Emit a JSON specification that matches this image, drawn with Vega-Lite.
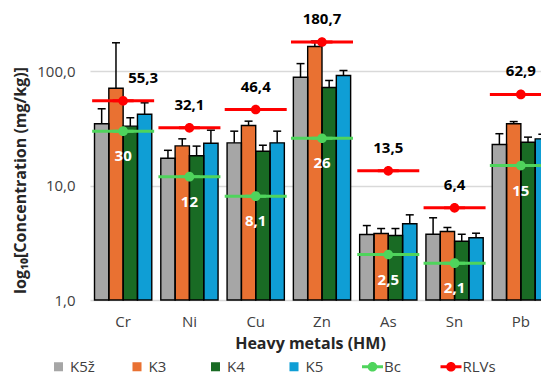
{
  "$schema": "https://vega.github.io/schema/vega-lite/v6.json",
  "autosize": {"type": "none"},
  "padding": {"left": 90, "top": 0, "right": 0, "bottom": 75},
  "width": 451,
  "height": 300,
  "config": {
    "locale": {"number": {"decimal": ",", "thousands": " ", "grouping": [3], "currency": ["", " €"]}},
    "font": "Open Sans",
    "view": {"stroke": null}
  },
  "datasets": {
    "bars": [
      {"metal": "Cr", "series": "K5ž", "value": 34.8, "upper": 47.1},
      {"metal": "Cr", "series": "K3", "value": 71.3, "upper": 178},
      {"metal": "Cr", "series": "K4", "value": 33.2, "upper": 39.3},
      {"metal": "Cr", "series": "K5", "value": 42.2, "upper": 53.1},
      {"metal": "Ni", "series": "K5ž", "value": 17.4, "upper": 20.4},
      {"metal": "Ni", "series": "K3", "value": 22.3, "upper": 25.7},
      {"metal": "Ni", "series": "K4", "value": 18.3, "upper": 22.2},
      {"metal": "Ni", "series": "K5", "value": 23.5, "upper": 30.6},
      {"metal": "Cu", "series": "K5ž", "value": 23.7, "upper": 30.0},
      {"metal": "Cu", "series": "K3", "value": 33.6, "upper": 36.7},
      {"metal": "Cu", "series": "K4", "value": 20.0, "upper": 22.6},
      {"metal": "Cu", "series": "K5", "value": 23.7, "upper": 30.0},
      {"metal": "Zn", "series": "K5ž", "value": 89, "upper": 117},
      {"metal": "Zn", "series": "K3", "value": 165, "upper": 184},
      {"metal": "Zn", "series": "K4", "value": 72.3, "upper": 83.3},
      {"metal": "Zn", "series": "K5", "value": 92, "upper": 101.8},
      {"metal": "As", "series": "K5ž", "value": 3.74, "upper": 4.48},
      {"metal": "As", "series": "K3", "value": 3.82, "upper": 4.22},
      {"metal": "As", "series": "K4", "value": 3.67, "upper": 4.22},
      {"metal": "As", "series": "K5", "value": 4.64, "upper": 5.56},
      {"metal": "Sn", "series": "K5ž", "value": 3.76, "upper": 5.24},
      {"metal": "Sn", "series": "K3", "value": 3.97, "upper": 4.31},
      {"metal": "Sn", "series": "K4", "value": 3.27, "upper": 3.76},
      {"metal": "Sn", "series": "K5", "value": 3.5, "upper": 3.84},
      {"metal": "Pb", "series": "K5ž", "value": 22.9, "upper": 28.5},
      {"metal": "Pb", "series": "K3", "value": 34.8, "upper": 36.4},
      {"metal": "Pb", "series": "K4", "value": 24.0, "upper": 26.6},
      {"metal": "Pb", "series": "K5", "value": 25.7, "upper": 28.2}
    ],
    "ref": [
      {"metal": "Cr", "series": "Bc", "value": 30},
      {"metal": "Ni", "series": "Bc", "value": 12},
      {"metal": "Cu", "series": "Bc", "value": 8.1},
      {"metal": "Zn", "series": "Bc", "value": 26},
      {"metal": "As", "series": "Bc", "value": 2.5},
      {"metal": "Sn", "series": "Bc", "value": 2.1},
      {"metal": "Pb", "series": "Bc", "value": 15},
      {"metal": "Cr", "series": "RLVs", "value": 55.3},
      {"metal": "Ni", "series": "RLVs", "value": 32.1},
      {"metal": "Cu", "series": "RLVs", "value": 46.4},
      {"metal": "Zn", "series": "RLVs", "value": 180.7},
      {"metal": "As", "series": "RLVs", "value": 13.5},
      {"metal": "Sn", "series": "RLVs", "value": 6.4},
      {"metal": "Pb", "series": "RLVs", "value": 62.9}
    ]
  },
  "encoding": {
    "x": {
      "field": "metal", "type": "nominal", "sort": ["Cr", "Ni", "Cu", "Zn", "As", "Sn", "Pb"],
      "scale": {"range": [0, 464], "paddingInner": 0.136, "paddingOuter": 0.068},
      "axis": {
        "title": "Heavy metals (HM)", "labelAngle": 0, "domain": false, "ticks": false, "grid": false,
        "labelFontSize": 15, "labelColor": "#404040", "labelPadding": 14,
        "titleFontSize": 16, "titleFontWeight": "bold", "titleColor": "#262626",
        "titleX": 220, "titleY": 48, "titleBaseline": "alphabetic", "titleAnchor": "middle"
      }
    },
    "y": {
      "type": "quantitative",
      "scale": {"type": "log", "domain": [1, 421.4], "nice": false, "zero": false},
      "axis": {
        "title": "log₁₀[Concentration (mg/kg)]", "values": [1, 10, 100], "format": ".1f",
        "domain": false, "ticks": false, "grid": true, "gridColor": "#d9d9d9", "gridWidth": 1.5,
        "labelFontSize": 15, "labelColor": "#404040", "labelPadding": 15,
        "titleFontSize": 16, "titleFontWeight": "bold", "titleColor": "#262626",
        "titleX": -70, "titleY": 180, "titleAngle": -90, "titleAlign": "center", "titleBaseline": "middle"
      }
    }
  },
  "layer": [
    {
      "data": {"name": "bars"},
      "mark": {"type": "bar"},
      "encoding": {
        "y": {"field": "value", "type": "quantitative", "stack": null},
        "xOffset": {"field": "series", "type": "nominal", "sort": ["K5ž", "K3", "K4", "K5"], "scale": {"paddingInner": 0, "paddingOuter": 0}},
        "color": {
          "field": "series", "type": "nominal",
          "scale": {"domain": ["K5ž", "K3", "K4", "K5", "Bc", "RLVs"], "range": ["#a6a6a6", "#e97132", "#196b24", "#0f9ed5", "#4fd45c", "#ff0000"]},
          "legend": {
            "title": null, "orient": "none", "legendX": -43, "legendY": 355, "direction": "horizontal",
            "columns": 6, "symbolSize": 441, "labelFontSize": 15, "labelColor": "#404040", "labelOffset": 0,
            "columnPadding": 21.5, "gridAlign": "all", "symbolOpacity": 1, "labelLimit": 200
          }
        }
      }
    },
    {
      "data": {"name": "bars"},
      "mark": {"type": "bar", "filled": false, "color": "#000000", "strokeWidth": 1.4},
      "encoding": {
        "y": {"field": "value", "type": "quantitative", "stack": null},
        "xOffset": {"field": "series", "type": "nominal", "sort": ["K5ž", "K3", "K4", "K5"]}
      }
    },
    {
      "data": {"name": "bars"},
      "mark": {"type": "rule", "color": "#000000", "strokeWidth": 1.5},
      "encoding": {
        "y": {"field": "value", "type": "quantitative"},
        "y2": {"field": "upper"},
        "xOffset": {"field": "series", "type": "nominal", "sort": ["K5ž", "K3", "K4", "K5"]}
      }
    },
    {
      "data": {"name": "bars"},
      "mark": {"type": "tick", "color": "#000000", "thickness": 1.5, "size": 8, "opacity": 1},
      "encoding": {
        "y": {"field": "upper", "type": "quantitative"},
        "xOffset": {"field": "series", "type": "nominal", "sort": ["K5ž", "K3", "K4", "K5"]}
      }
    },
    {
      "data": {"name": "ref"},
      "mark": {"type": "tick", "thickness": 3, "size": 62, "opacity": 1},
      "encoding": {
        "y": {"field": "value", "type": "quantitative"},
        "color": {"field": "series", "type": "nominal"}
      }
    },
    {
      "data": {"name": "ref"},
      "mark": {"type": "point", "filled": true, "size": 441, "opacity": 1},
      "encoding": {
        "y": {"field": "value", "type": "quantitative"},
        "color": {"field": "series", "type": "nominal"},
        "shape": {
          "field": "series", "type": "nominal",
          "scale": {
            "domain": ["K5ž", "K3", "K4", "K5", "Bc", "RLVs"],
            "range": [
              "M-0.43,-0.43H0.43V0.43H-0.43Z",
              "M-0.43,-0.43H0.43V0.43H-0.43Z",
              "M-0.43,-0.43H0.43V0.43H-0.43Z",
              "M-0.43,-0.43H0.43V0.43H-0.43Z",
              "M-1,-0.14H1V0.14H-1Z M0.46,0A0.46,0.46 0 1 1 -0.46,0A0.46,0.46 0 1 1 0.46,0Z",
              "M-1,-0.14H1V0.14H-1Z M0.46,0A0.46,0.46 0 1 1 -0.46,0A0.46,0.46 0 1 1 0.46,0Z"
            ]
          },
          "legend": {
            "title": null, "orient": "none", "legendX": -43, "legendY": 355, "direction": "horizontal",
            "columns": 6, "symbolSize": 441, "labelFontSize": 15, "labelColor": "#404040", "labelOffset": 0,
            "columnPadding": 21.5, "gridAlign": "all", "symbolOpacity": 1, "labelLimit": 200
          }
        }
      }
    },
    {
      "data": {"name": "ref"},
      "transform": [{"filter": "datum.series == 'RLVs' && datum.metal != 'Cr'"}],
      "mark": {"type": "text", "dy": -23, "fontSize": 15, "fontWeight": "bold", "color": "#000000"},
      "encoding": {
        "y": {"field": "value", "type": "quantitative"},
        "text": {"field": "value", "type": "quantitative", "format": ".1f"}
      }
    },
    {
      "data": {"name": "ref"},
      "transform": [{"filter": "datum.series == 'RLVs' && datum.metal == 'Cr'"}],
      "mark": {"type": "text", "dy": -23, "dx": 20, "fontSize": 15, "fontWeight": "bold", "color": "#000000"},
      "encoding": {
        "y": {"field": "value", "type": "quantitative"},
        "text": {"field": "value", "type": "quantitative", "format": ".1f"}
      }
    },
    {
      "data": {"name": "ref"},
      "transform": [{"filter": "datum.series == 'Bc'"}],
      "mark": {"type": "text", "dy": 25, "fontSize": 15, "fontWeight": "bold", "color": "#ffffff"},
      "encoding": {
        "y": {"field": "value", "type": "quantitative"},
        "text": {"field": "value", "type": "quantitative", "format": "~g"}
      }
    }
  ]
}
